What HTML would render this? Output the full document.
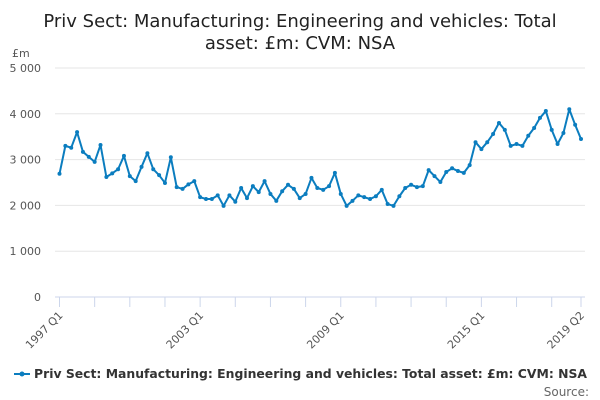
<!DOCTYPE html>
<html><head><meta charset="utf-8"><style>
body{margin:0;background:#fff;font-family:"DejaVu Sans","Liberation Sans",sans-serif}
svg{display:block}
</style></head><body>
<svg id="chart" width="600" height="400">
<text x="300" y="27" text-anchor="middle" font-size="18" fill="#222">Priv Sect: Manufacturing: Engineering and vehicles: Total</text>
<text x="300" y="49" text-anchor="middle" font-size="18" fill="#222">asset: £m: CVM: NSA</text>
<text x="12" y="57" font-size="11" fill="#555">£m</text>
<g id="grid"></g><g id="xaxis"></g><g id="series"></g>
<g>
<line x1="14" y1="374" x2="30" y2="374" stroke="#0b7dbf" stroke-width="2"/>
<circle cx="22" cy="374" r="2.5" fill="#0b7dbf"/>
<text x="34" y="378" font-size="12.4" font-weight="bold" fill="#333">Priv Sect: Manufacturing: Engineering and vehicles: Total asset: £m: CVM: NSA</text>
</g>
<text x="589" y="396" text-anchor="end" font-size="12" fill="#666">Source:</text>
</svg>
<script>
const values=[2690,3300,3260,3600,3170,3060,2950,3320,2620,2700,2790,3080,2640,2530,2840,3140,2790,2660,2490,3050,2400,2360,2460,2530,2180,2140,2140,2220,1990,2220,2080,2380,2160,2420,2290,2530,2250,2100,2310,2450,2360,2160,2250,2600,2380,2340,2420,2710,2250,1990,2100,2220,2180,2140,2200,2340,2030,1990,2200,2380,2450,2400,2420,2770,2640,2510,2730,2810,2750,2710,2880,3380,3230,3380,3560,3800,3650,3300,3340,3300,3520,3690,3910,4060,3650,3340,3580,4100,3760,3450];
const yTicks=[0,1000,2000,3000,4000,5000];
const yTickLabels=["0","1 000","2 000","3 000","4 000","5 000"];
const xTickLabels=["1997 Q1","2003 Q1","2009 Q1","2015 Q1","2019 Q2"];
const xTickLabelIdx=[0,24,48,72,89];
const NS="http://www.w3.org/2000/svg";
const x0=59.5,x1=581,y0=297,y1=68;
const xs=i=>x0+(x1-x0)*i/(values.length-1);
const ys=v=>y0-(y0-y1)*v/5000;
function mk(t,a,p){const e=document.createElementNS(NS,t);for(const k in a)e.setAttribute(k,a[k]);p.appendChild(e);return e;}
const grid=document.getElementById('grid');
yTicks.forEach((v,i)=>{
 const l=mk('line',{x1:55,x2:585,y1:ys(v),y2:ys(v),stroke:v===0?'#ccd6eb':'#e6e6e6','stroke-width':1},grid);
 
 
 const t=mk('text',{x:41,y:ys(v)+4,'text-anchor':'end','font-size':11,fill:'#555'},grid);
 t.textContent=yTickLabels[i];
 
 
});
const xa=document.getElementById('xaxis');
for(let i=0;i<values.length;i+=6){
 const l=mk('line',{x1:xs(i),x2:xs(i),y1:297,y2:307,stroke:'#ccd6eb'},xa);
 
 
}
{const l=mk('line',{x1:xs(89),x2:xs(89),y1:297,y2:307,stroke:'#ccd6eb'},xa);
 
 }
xTickLabels.forEach((s,k)=>{
 const x=xs(xTickLabelIdx[k])+4,y=316;
 const t=mk('text',{x:x,y:y,'text-anchor':'end','font-size':11,fill:'#555',transform:`rotate(-45 ${x} ${y})`},xa);
 t.textContent=s;
 
 
});
const sg=document.getElementById('series');
const p=mk('path',{d:values.map((v,i)=>(i?'L':'M')+xs(i)+' '+ys(v)).join(''),fill:'none',stroke:'#0b7dbf','stroke-width':2,'stroke-linejoin':'round'},sg);


values.forEach((v,i)=>{
 const c=mk('circle',{cx:xs(i),cy:ys(v),r:2,fill:'#0b7dbf'},sg);
 
 
});
</script>
</body></html>
